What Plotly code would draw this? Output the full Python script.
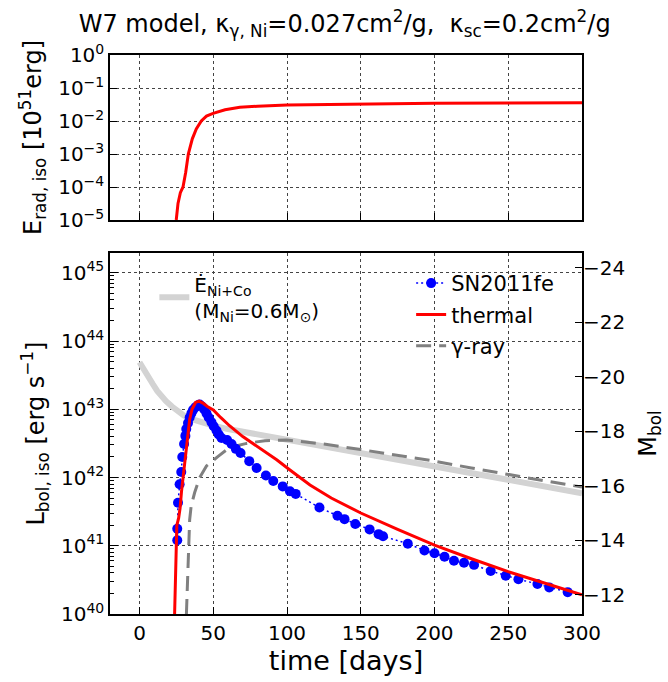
import plotly.graph_objects as go

# ---------------- data ----------------
# top panel: radiated energy E_rad,iso [1e51 erg], stored as log10
t_erad = [24.9, 26.1, 27.7, 29.5, 31.3, 33.1, 35.8, 38.5, 41.9, 45.4, 49.9, 58, 68, 80, 100, 150, 200, 250, 300]
log_erad = [-5.0, -4.5, -4.17, -4.0, -3.56, -3.0, -2.54, -2.24, -2.0, -1.85, -1.77, -1.66, -1.585, -1.55,
            -1.515, -1.48, -1.465, -1.455, -1.45]

# bottom panel: luminosities, stored as log10 [erg/s]
t_ni = [0, 3, 6, 9, 12, 15, 18, 22, 26, 30, 35, 40, 50, 60, 75, 100, 125, 150, 200, 250, 300]
log_ni = [43.69, 43.57, 43.47, 43.37, 43.27, 43.19, 43.12, 43.04, 42.97, 42.91, 42.86, 42.82, 42.76,
          42.71, 42.65, 42.55, 42.45, 42.36, 42.16, 41.97, 41.77]

t_thermal = [23.8, 24.5, 25.3, 26.5, 27.5, 28.5, 29.5, 31.7, 34, 35.6, 38, 40.4, 43, 46, 50, 55, 61.2,
             70, 79.4, 93, 102, 115.6, 130, 150, 175, 200, 225, 250, 275, 300]
log_thermal = [40.0, 40.9, 41.3, 41.4, 41.55, 41.8, 42.0, 42.46, 42.85, 43.0, 43.1, 43.12, 43.09, 43.04,
               42.99, 42.88, 42.755, 42.6, 42.46, 42.26, 42.11, 41.89, 41.7, 41.48, 41.24, 41.01, 40.81,
               40.62, 40.45, 40.28]

t_gamma = [31.8, 33.5, 34.0, 35.0, 37.4, 40.8, 45.4, 53.3, 61, 72.6, 85, 100, 125, 150, 175, 200, 225,
           250, 275, 300]
log_gamma = [40.0, 41.0, 41.38, 41.58, 41.78, 42.0, 42.17, 42.31, 42.44, 42.5, 42.54, 42.55, 42.49,
             42.41, 42.33, 42.24, 42.14, 42.04, 41.95, 41.86]

t_obs = [25.6, 25.6, 26.1, 27.2, 28.3, 29.0, 30.2, 31.1, 31.7, 32.9, 34.0, 35.2, 36.3, 37.9, 39.7,
         40.8, 42.4, 43.8, 45.4, 46.9, 48.8, 50.3, 52.2, 53.7, 55.6, 59.4, 62.4, 65.3, 68.5, 74.4,
         79.4, 85.7, 90.7, 97.1, 102.0, 105.9, 122.0, 134.2, 139.0, 146.3, 156.0, 162.1, 165.1, 181.9,
         193.2, 200.0, 206.8, 213.2, 220.0, 226.8, 238.1, 248.3, 256.9, 269.8, 277.8, 290.3]
log_obs = [41.08, 41.25, 41.63, 41.90, 42.08, 42.30, 42.49, 42.61, 42.71, 42.80, 42.88, 42.94, 42.99,
           43.03, 43.06, 43.07, 43.04, 43.00, 42.94, 42.88, 42.81, 42.75, 42.69, 42.63, 42.58, 42.55,
           42.49, 42.42, 42.36, 42.24, 42.14, 42.03, 41.95, 41.87, 41.80, 41.76, 41.56, 41.44, 41.39,
           41.32, 41.24, 41.17, 41.14, 41.03, 40.93, 40.89, 40.84, 40.78, 40.75, 40.72, 40.63, 40.56,
           40.51, 40.44, 40.39, 40.32]

# tick labels
x_ticks = [0, 50, 100, 150, 200, 250, 300]
top_exps = [0, -1, -2, -3, -4, -5]
bot_exps = [40, 41, 42, 43, 44, 45]
mag_ticks = [-24, -22, -20, -18, -16, -14, -12]

FONT = "DejaVu Sans"


def sup_label(e):
    s = str(e).replace("-", "\u2212")
    return "10<sup>" + s + "</sup>"


def pw(vals):
    return [10.0 ** v for v in vals]


fig = go.Figure()

fig.add_trace(go.Scatter(x=t_erad, y=pw(log_erad), mode="lines",
                         line=dict(color="red", width=3), xaxis="x", yaxis="y",
                         showlegend=False))

fig.add_trace(go.Scatter(x=t_ni, y=pw(log_ni), mode="lines",
                         line=dict(color="#d3d3d3", width=6), xaxis="x2", yaxis="y2",
                         name="\u0116<sub>Ni+Co</sub><br>(M<sub>Ni</sub>=0.6M<sub>\u2299</sub>)",
                         legend="legend2"))

fig.add_trace(go.Scatter(x=t_gamma, y=pw(log_gamma), mode="lines",
                         line=dict(color="#808080", width=3, dash="15px,8px"),
                         xaxis="x2", yaxis="y2", name="\u03b3-ray", legendgroup="c",
                         legendrank=3))

fig.add_trace(go.Scatter(x=t_obs, y=pw(log_obs), mode="lines+markers",
                         line=dict(color="blue", width=1.5, dash="2px,3px"),
                         marker=dict(color="blue", size=10),
                         xaxis="x2", yaxis="y2", name="SN2011fe", legendgroup="a",
                         legendrank=1))

fig.add_trace(go.Scatter(x=t_thermal, y=pw(log_thermal), mode="lines",
                         line=dict(color="red", width=3),
                         xaxis="x2", yaxis="y2", name="thermal", legendgroup="b",
                         legendrank=2))

grid = dict(showgrid=True, gridcolor="#444444", griddash="dot", gridwidth=1)
frame = dict(showline=True, linecolor="black", linewidth=1.5, mirror=True)
tickfont = dict(family=FONT, size=20, color="black")

minor_vals = [m * 10.0 ** e for e in range(40, 45) for m in range(2, 10)] + [2e45]

fig.update_layout(
    width=668, height=682,
    margin=dict(l=110, r=86, t=55, b=68),
    paper_bgcolor="white", plot_bgcolor="white",
    font=dict(family=FONT, color="black"),
    title=dict(text="W7 model, \u03ba<sub>\u03b3, Ni</sub>=0.027cm<sup>2</sup>/g,  \u03ba<sub>sc</sub>=0.2cm<sup>2</sup>/g",
               x=0.516, xanchor="center", y=0.965, yanchor="middle",
               font=dict(family=FONT, size=24, color="black")),
    xaxis=dict(domain=[0, 1], anchor="y", range=[-20, 300], tickmode="array", tickvals=x_ticks,
               showticklabels=False, ticks="inside", ticklen=7, tickcolor="black",
               matches="x2", zeroline=False, **grid, **frame),
    yaxis=dict(domain=[0.7048, 1], anchor="x", type="log", range=[-5, 0], tickmode="array",
               tickvals=[10.0 ** e for e in top_exps], ticktext=[sup_label(e) for e in top_exps],
               ticks="inside", ticklen=7, tickcolor="black", tickfont=tickfont,
               title=dict(text="E<sub>rad, iso</sub> [10<sup>51</sup>erg]",
                          font=dict(family=FONT, size=24), standoff=10),
               zeroline=False, **grid, **frame),
    xaxis2=dict(domain=[0, 1], anchor="y2", range=[-20, 300], tickmode="array", tickvals=x_ticks,
                ticks="inside", ticklen=7, tickcolor="black", tickfont=tickfont,
                title=dict(text="time [days]", font=dict(family=FONT, size=27), standoff=4),
                zeroline=False, **grid, **frame),
    yaxis2=dict(domain=[0, 0.6458], anchor="x2", type="log", range=[40, 45.29], tickmode="array",
                tickvals=[10.0 ** e for e in bot_exps], ticktext=[sup_label(e) for e in bot_exps],
                ticks="inside", ticklen=8, tickcolor="black", tickfont=tickfont,
                minor=dict(tickmode="array", tickvals=minor_vals, ticks="inside", ticklen=4,
                           tickcolor="black", showgrid=False),
                title=dict(text="L<sub>bol, iso</sub> [erg s<sup>\u22121</sup>]",
                           font=dict(family=FONT, size=24), standoff=10),
                zeroline=False, **grid, **frame),
    yaxis3=dict(overlaying="y2", anchor="x2", side="right", range=[-11.29, -24.55],
                tickmode="array", tickvals=mag_ticks, ticks="inside", ticklen=7,
                tickcolor="black", tickfont=tickfont, showgrid=False, zeroline=False,
                title=dict(text="M<sub>bol</sub>", font=dict(family=FONT, size=24), standoff=14)),
    legend=dict(x=0.638, y=0.628, xanchor="left", yanchor="top", bgcolor="rgba(0,0,0,0)",
                font=dict(family=FONT, size=21, color="black"), tracegroupgap=1,
                traceorder="grouped"),
    legend2=dict(x=0.094, y=0.625, xanchor="left", yanchor="top", bgcolor="rgba(0,0,0,0)",
                 font=dict(family=FONT, size=20, color="black"), valign="middle"),
)

# invisible anchor so the magnitude axis is drawn
fig.add_trace(go.Scatter(x=[None], y=[None], xaxis="x2", yaxis="y3", showlegend=False,
                         hoverinfo="skip"))

fig.write_html("out.html")
